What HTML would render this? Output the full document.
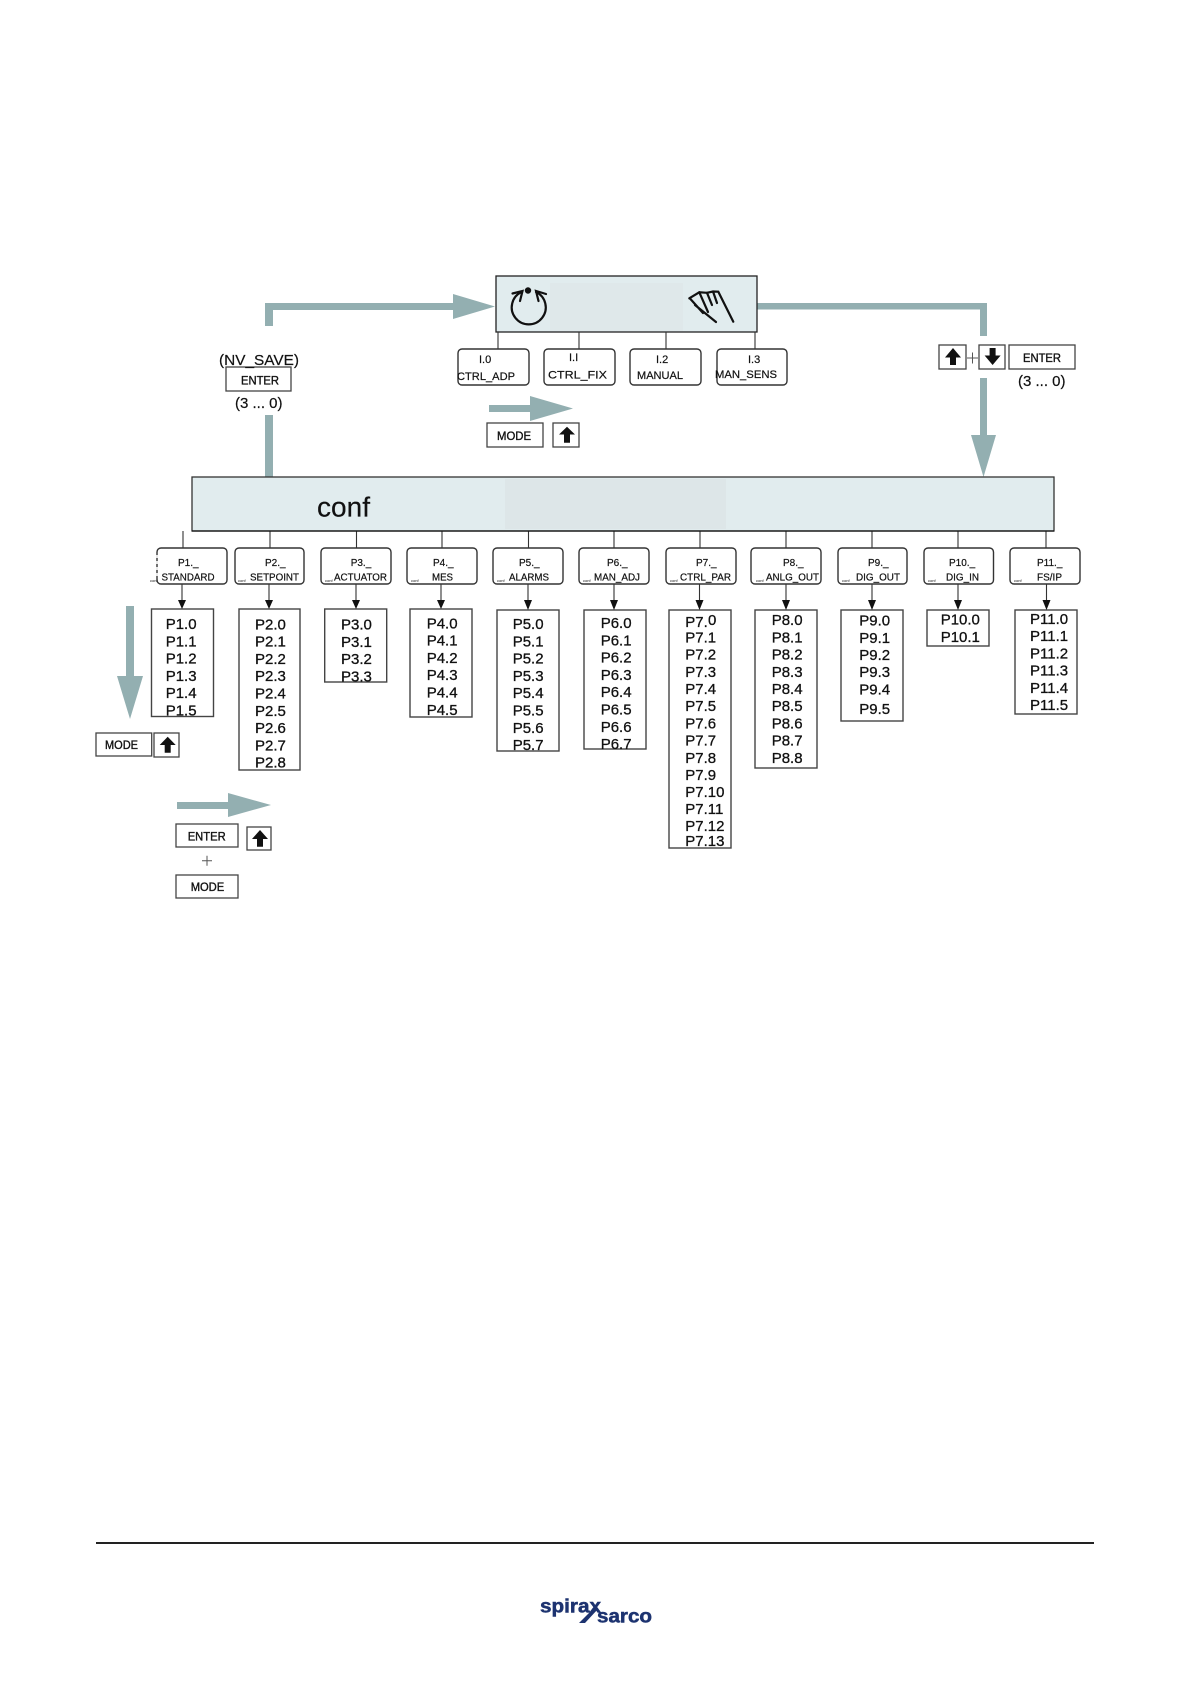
<!DOCTYPE html>
<html><head><meta charset="utf-8"><style>
html,body{margin:0;padding:0;background:#fff}
svg{display:block;filter:blur(.3px)}
text{font-family:"Liberation Sans",sans-serif;fill:#111}
.l text{font-size:15px;stroke:#111;stroke-width:.3}
.s text{font-size:10px;stroke:#111;stroke-width:.2}
.i text{font-size:11px;stroke:#111;stroke-width:.2}
.k text{font-size:11.5px;stroke:#111;stroke-width:.35}
.t{stroke:#111;stroke-width:.2}
.rb rect{fill:#fff;stroke:#333;stroke-width:1.4}
.lb rect{fill:#fff;stroke:#444;stroke-width:1.4}
.sq rect{fill:#fff;stroke:#444;stroke-width:1.3}
</style></head><body>
<svg xmlns="http://www.w3.org/2000/svg" width="1191" height="1684" viewBox="0 0 1191 1684">
<rect width="1191" height="1684" fill="#fff"/>

<!-- grey arrows -->
<g fill="#93afb1">
<path d="M265 326V303H453V294L495 306.5L453 319V310H273V326Z"/>
<rect x="265" y="415" width="8" height="62"/>
<path d="M757 303H987V336H980V309.500H757Z"/>
<path d="M980 378H987V435H996L983.500 477L971 435H980Z"/>
<path d="M489 405H530V396L573 408.500L530 421V412H489Z"/>
<path d="M126 606H134V676H143L130 719L117 676H126Z"/>
<path d="M177 802H228V793L271 805L228 817V809H177Z"/>
</g>

<!-- top display -->
<rect x="496" y="276" width="261" height="56" fill="#e1ecee"/>
<rect x="550" y="283" width="133" height="48" fill="#dfe8ea"/>
<rect x="496" y="276" width="261" height="56" fill="none" stroke="#222" stroke-width="1.300"/>
<g fill="none" stroke="#111" stroke-width="2.200" stroke-linecap="round">
<path d="M521.500 292A17 17 0 1 0 536 292"/>
<path d="M512.500 293.500L522.500 291L520 301M546 294L536 291L538.500 301"/>
</g>
<circle cx="528" cy="290.500" r="3.200" fill="#111"/>
<g fill="none" stroke="#111" stroke-width="2.200" stroke-linecap="round">
<path d="M689.300 298.300L699.300 292.300L707 292.800L713 291.500L718.300 291.700L733.300 321.700"/>
<path d="M695 305L716 322M690 298.500L703 313M699.300 292.300L708 312M707 292.800L712 305M713 291.500L717 303"/>
</g>

<!-- connectors top -->
<g stroke="#333" stroke-width="1.100">
<path d="M498 332V349M579 332V349M666 332V349M755 332V349"/>
<path d="M183 531V548M270 531V548M356.500 531V548M442 531V548M528.500 531V548M614 531V548M700 531V548M786 531V548M872 531V548M958 531V548M1046 531V548"/>
<path d="M182 584V601M269 584V601M356 584V601M441 584V601M528 584V601M614 584V601M699.500 584V601M786 584V601M872 584V601M958 584V601M1046.500 584V601"/>
</g>

<!-- I boxes -->
<g class="rb">
<rect x="458" y="349" width="71" height="36" rx="4"/>
<rect x="544" y="349" width="71" height="36" rx="4"/>
<rect x="630" y="349" width="71" height="36" rx="4"/>
<rect x="717" y="349" width="70" height="36" rx="4"/>
</g>
<g class="i">
<text x="479" y="363">I.0</text><text x="457" y="380" textLength="58" lengthAdjust="spacingAndGlyphs">CTRL_ADP</text>
<text x="569" y="361">I.I</text><text x="548" y="378.500" textLength="59" lengthAdjust="spacingAndGlyphs">CTRL_FIX</text>
<text x="656" y="363">I.2</text><text x="637" y="379" textLength="46" lengthAdjust="spacingAndGlyphs">MANUAL</text>
<text x="748" y="363">I.3</text><text x="715" y="378" textLength="62" lengthAdjust="spacingAndGlyphs">MAN_SENS</text>
</g>

<!-- conf bar -->
<rect x="192" y="477" width="862" height="54" fill="#e1ecee"/>
<rect x="505" y="479" width="221" height="50" fill="#dde6e8"/>
<rect x="192" y="477" width="862" height="54" fill="none" stroke="#333" stroke-width="1.300"/>
<path d="M192 531H1054" stroke="#111" stroke-width="1.300"/>
<text x="317" y="516.500" font-size="28" textLength="53" lengthAdjust="spacingAndGlyphs" class="t">conf</text>

<!-- P boxes -->
<g class="rb">
<rect x="157" y="548" width="70" height="36" rx="4"/>
<rect x="235" y="548" width="69" height="36" rx="4"/>
<rect x="321" y="548" width="70" height="36" rx="4"/>
<rect x="407" y="548" width="70" height="36" rx="4"/>
<rect x="493" y="548" width="70" height="36" rx="4"/>
<rect x="579" y="548" width="70" height="36" rx="4"/>
<rect x="666" y="548" width="70" height="36" rx="4"/>
<rect x="751" y="548" width="70" height="36" rx="4"/>
<rect x="838" y="548" width="69" height="36" rx="4"/>
<rect x="924" y="548" width="69.500" height="36" rx="4"/>
<rect x="1010" y="548" width="70" height="36" rx="4"/>
</g>
<path d="M157 555V576" stroke="#fff" stroke-width="1.500" stroke-dasharray="3 3"/>
<g class="s">
<text x="178" y="566">P1._</text><text x="161.500" y="580.700" textLength="53" lengthAdjust="spacingAndGlyphs">STANDARD</text>
<text x="265" y="566">P2._</text><text x="250" y="580.700" textLength="49" lengthAdjust="spacingAndGlyphs">SETPOINT</text>
<text x="350.700" y="566">P3._</text><text x="334" y="580.700" textLength="53" lengthAdjust="spacingAndGlyphs">ACTUATOR</text>
<text x="433" y="566">P4._</text><text x="432" y="580.700" textLength="21" lengthAdjust="spacingAndGlyphs">MES</text>
<text x="519" y="566">P5._</text><text x="509" y="580.700" textLength="40" lengthAdjust="spacingAndGlyphs">ALARMS</text>
<text x="607" y="566">P6._</text><text x="594" y="580.700" textLength="46" lengthAdjust="spacingAndGlyphs">MAN_ADJ</text>
<text x="696" y="566">P7._</text><text x="680" y="580.700" textLength="51" lengthAdjust="spacingAndGlyphs">CTRL_PAR</text>
<text x="783" y="566">P8._</text><text x="766" y="580.700" textLength="53" lengthAdjust="spacingAndGlyphs">ANLG_OUT</text>
<text x="868" y="566">P9._</text><text x="856" y="580.700" textLength="44" lengthAdjust="spacingAndGlyphs">DIG_OUT</text>
<text x="949" y="566">P10._</text><text x="946" y="580.700" textLength="33" lengthAdjust="spacingAndGlyphs">DIG_IN</text>
<text x="1037" y="566">P11._</text><text x="1037" y="580.700" textLength="25" lengthAdjust="spacingAndGlyphs">FS/IP</text>
</g>
<g>
<text x="150" y="582" font-size="4">conf</text><text x="238" y="582" font-size="4">conf</text><text x="325" y="582" font-size="4">conf</text><text x="411" y="582" font-size="4">conf</text><text x="497" y="582" font-size="4">conf</text><text x="583" y="582" font-size="4">conf</text><text x="670" y="582" font-size="4">conf</text><text x="756" y="582" font-size="4">conf</text><text x="842" y="582" font-size="4">conf</text><text x="928" y="582" font-size="4">conf</text><text x="1014" y="582" font-size="4">conf</text>
</g>

<!-- list boxes -->
<g class="lb">
<rect x="151.500" y="609" width="62" height="107.500"/>
<rect x="239" y="609" width="61" height="161"/>
<rect x="324.700" y="609" width="62" height="73"/>
<rect x="410" y="609" width="62" height="108"/>
<rect x="497" y="610" width="62" height="141"/>
<rect x="584" y="610" width="62" height="139"/>
<rect x="669" y="610" width="62" height="238"/>
<rect x="755" y="610" width="62" height="158"/>
<rect x="841" y="610" width="62" height="111" stroke-width="1.700"/>
<rect x="927" y="610" width="62" height="36"/>
<rect x="1015" y="610" width="62" height="104"/>
</g>

<!-- small arrowheads -->
<g fill="#111">
<path d="M178 600H186L182 609ZM265 600H273L269 609ZM352 600H360L356 609ZM437 600H445L441 609ZM524 600H532L528 610ZM610 600H618L614 610ZM695.500 600H703.500L699.500 610ZM782 600H790L786 610ZM868 600H876L872 610ZM954 600H962L958 610ZM1042.500 600H1050.500L1046.500 610Z"/>
</g>

<g class="l">
<text x="165.700" y="629">P1.0</text><text x="165.700" y="646.300">P1.1</text><text x="165.700" y="663.600">P1.2</text><text x="165.700" y="680.900">P1.3</text><text x="165.700" y="698.200">P1.4</text><text x="165.700" y="715.500">P1.5</text>

<text x="255" y="629.300">P2.0</text><text x="255" y="646.600">P2.1</text><text x="255" y="663.900">P2.2</text><text x="255" y="681.200">P2.3</text><text x="255" y="698.500">P2.4</text><text x="255" y="715.800">P2.5</text><text x="255" y="733.100">P2.6</text><text x="255" y="750.400">P2.7</text><text x="255" y="767.700">P2.8</text>

<text x="341" y="629.500">P3.0</text><text x="341" y="646.800">P3.1</text><text x="341" y="664.100">P3.2</text><text x="341" y="681.400">P3.3</text>

<text x="426.700" y="628.300">P4.0</text><text x="426.700" y="645.600">P4.1</text><text x="426.700" y="662.900">P4.2</text><text x="426.700" y="680.200">P4.3</text><text x="426.700" y="697.500">P4.4</text><text x="426.700" y="714.800">P4.5</text>

<text x="512.700" y="629">P5.0</text><text x="512.700" y="646.300">P5.1</text><text x="512.700" y="663.600">P5.2</text><text x="512.700" y="680.900">P5.3</text><text x="512.700" y="698.200">P5.4</text><text x="512.700" y="715.500">P5.5</text><text x="512.700" y="732.800">P5.6</text><text x="512.700" y="750.100">P5.7</text>

<text x="600.700" y="628">P6.0</text><text x="600.700" y="645.300">P6.1</text><text x="600.700" y="662.600">P6.2</text><text x="600.700" y="679.900">P6.3</text><text x="600.700" y="697.200">P6.4</text><text x="600.700" y="714.500">P6.5</text><text x="600.700" y="731.800">P6.6</text><text x="600.700" y="749">P6.7</text>

<text x="685.300" y="627">P7.</text><text x="708" y="625">0</text><text x="685.300" y="642.300">P7.1</text><text x="685.300" y="659.500">P7.2</text><text x="685.300" y="676.800">P7.3</text><text x="685.300" y="694">P7.4</text><text x="685.300" y="711.200">P7.5</text><text x="685.300" y="728.400">P7.6</text><text x="685.300" y="745.600">P7.7</text><text x="685.300" y="762.800">P7.8</text><text x="685.300" y="780">P7.9</text><text x="685.300" y="797.200">P7.10</text><text x="685.300" y="814.200">P7.11</text><text x="685.300" y="831">P7.12</text><text x="685.300" y="846">P7.13</text>

<text x="771.700" y="625">P8.0</text><text x="771.700" y="642.300">P8.1</text><text x="771.700" y="659.500">P8.2</text><text x="771.700" y="676.800">P8.3</text><text x="771.700" y="694">P8.4</text><text x="771.700" y="711.200">P8.5</text><text x="771.700" y="728.400">P8.6</text><text x="771.700" y="745.600">P8.7</text><text x="771.700" y="762.800">P8.8</text>

<text x="859.300" y="625.700">P9.0</text><text x="859.300" y="643">P9.1</text><text x="859.300" y="660.100">P9.2</text><text x="859.300" y="677.200">P9.3</text><text x="859.300" y="694.300">P9.4</text><text x="859.300" y="714">P9.5</text>

<text x="940.700" y="624.700">P10.0</text><text x="940.700" y="642">P10.1</text>

<text x="1030" y="624">P11.0</text><text x="1030" y="641.200">P11.1</text><text x="1030" y="658.400">P11.2</text><text x="1030" y="675.600">P11.3</text><text x="1030" y="692.800">P11.4</text><text x="1030" y="710">P11.5</text>
</g>

<!-- key boxes -->
<g class="sq">
<rect x="226" y="367" width="65" height="24"/>
<rect x="487" y="423" width="56" height="24"/>
<rect x="553" y="423" width="26" height="24"/>
<rect x="939" y="345" width="27" height="24"/>
<rect x="979" y="345" width="26" height="24"/>
<rect x="1009" y="345" width="66" height="24"/>
<rect x="96" y="733" width="55.700" height="23"/>
<rect x="154" y="733" width="25" height="24"/>
<rect x="176" y="824" width="62" height="23"/>
<rect x="247" y="827" width="24" height="23"/>
<rect x="176" y="875" width="62" height="23"/>
</g>
<g fill="#111">
<path d="M567 426.700L575 434.500H570V442.700H564V434.500H559Z"/>
<path d="M953 348L961 357.500H956V365H950V357.500H945Z"/>
<path d="M992.600 365L984.600 355.500H989.600V348H995.600V355.500H1000.600Z"/>
<path d="M167.700 736.700L175.700 745H170.700V752.700H164.700V745H159.700Z"/>
<path d="M260 830L268 839H263V846.700H257V839H252Z"/>
</g>
<g class="k">
<text x="241" y="384.500" textLength="38" lengthAdjust="spacingAndGlyphs">ENTER</text>
<text x="497" y="440" textLength="34" lengthAdjust="spacingAndGlyphs">MODE</text>
<text x="1023" y="362" textLength="38" lengthAdjust="spacingAndGlyphs">ENTER</text>
<text x="105" y="749" textLength="33" lengthAdjust="spacingAndGlyphs">MODE</text>
<text x="187.700" y="840.500" textLength="38" lengthAdjust="spacingAndGlyphs">ENTER</text>
<text x="190.700" y="891" textLength="33.500" lengthAdjust="spacingAndGlyphs">MODE</text>
</g>
<text x="219" y="365" font-size="15" textLength="80" lengthAdjust="spacingAndGlyphs" class="t">(NV_SAVE)</text>
<text x="235" y="408" font-size="15" class="t">(3 ... 0)</text>
<text x="1018" y="386" font-size="15" class="t">(3 ... 0)</text>
<path d="M967 358H978M972.500 352.500V363.500M202 860.700H212M207 855.700V865.700" stroke="#555" stroke-width="1" fill="none"/>

<!-- footer -->
<rect x="96" y="1542" width="998" height="2" fill="#222"/>
<text x="540" y="1612.500" font-size="19" textLength="61" lengthAdjust="spacingAndGlyphs" style="fill:#1d3370;font-weight:bold;stroke:#1d3370;stroke-width:.5">spirax</text>
<text x="597" y="1622.500" font-size="19" textLength="55" lengthAdjust="spacingAndGlyphs" style="fill:#1d3370;font-weight:bold;stroke:#1d3370;stroke-width:.5">sarco</text>
<path d="M579 1623L593 1609H598L585 1623Z" fill="#1d3370"/>
</svg>
</body></html>
